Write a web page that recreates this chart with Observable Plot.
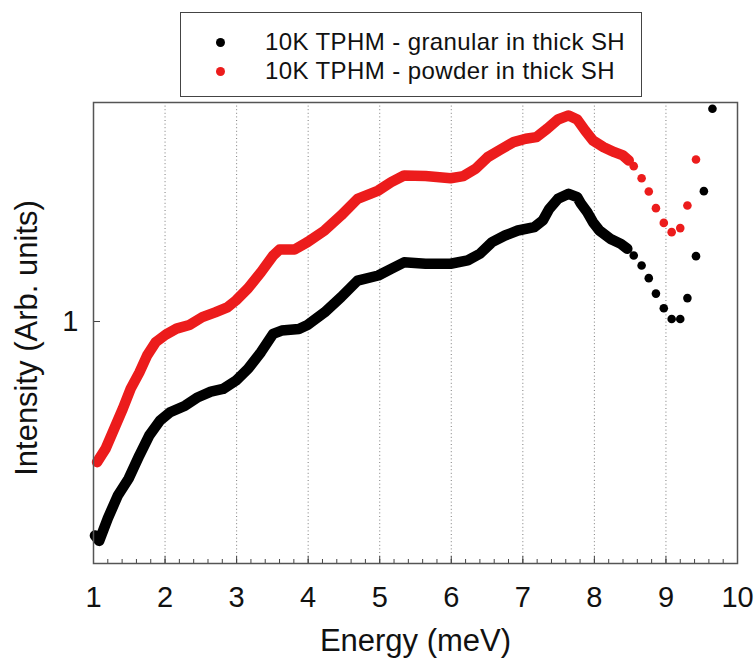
<!DOCTYPE html>
<html><head><meta charset="utf-8">
<script src="https://cdn.jsdelivr.net/npm/d3@7"></script>
<script src="https://cdn.jsdelivr.net/npm/@observablehq/plot@0.6"></script>
<style>
body{margin:0;background:#fff;}
#wrap{position:relative;width:755px;height:669px;font-family:"Liberation Sans",Arial,sans-serif;}
#legend{position:absolute;left:180px;top:12px;width:460px;height:83px;border:1.5px solid #444;background:#fff;}
.row{position:absolute;left:0;top:0;height:28px;display:flex;align-items:center;font-size:24px;letter-spacing:0.4px;color:#111;white-space:nowrap;}
.sw{width:9px;height:9px;border-radius:50%;margin-left:35px;margin-right:40px;flex:none;}
svg{overflow:visible;}
</style></head><body>
<div id="wrap"><div id="legend"></div></div>
<script>
const seriesNames = ["10K TPHM - granular in thick SH", "10K TPHM - powder in thick SH"];
const seriesColors = ["#000000", "#ec1c1c"];

const granularEnergy = [1.02,1.08,1.20,1.34,1.49,1.64,1.78,1.93,2.07,2.28,2.46,2.64,2.81,2.99,3.16,3.34,3.51,3.63,3.87,3.99,4.23,4.46,4.69,4.98,5.16,5.34,5.64,5.99,6.23,6.40,6.57,6.75,6.93,7.16,7.28,7.37,7.49,7.64,7.76,7.81,7.90,7.98,8.07,8.22,8.37,8.46,8.55,8.66,8.76,8.86,8.97,9.08,9.20,9.30,9.42,9.53,9.65];
const granularIntensity = [0.440,0.431,0.470,0.513,0.547,0.598,0.646,0.684,0.706,0.724,0.748,0.764,0.772,0.797,0.834,0.889,0.954,0.966,0.972,0.987,1.036,1.098,1.170,1.193,1.224,1.255,1.248,1.248,1.264,1.297,1.356,1.391,1.418,1.436,1.474,1.541,1.601,1.632,1.611,1.573,1.521,1.464,1.418,1.374,1.347,1.322,1.288,1.240,1.181,1.113,1.052,1.010,1.010,1.094,1.285,1.649,2.262];

const powderEnergy = [1.05,1.17,1.29,1.41,1.52,1.64,1.75,1.87,2.01,2.16,2.34,2.52,2.70,2.87,2.99,3.16,3.34,3.51,3.60,3.81,3.99,4.23,4.46,4.69,4.98,5.16,5.34,5.64,5.99,6.17,6.34,6.51,6.69,6.87,7.04,7.19,7.34,7.49,7.64,7.76,7.87,7.98,8.13,8.28,8.40,8.48,8.55,8.66,8.76,8.86,8.97,9.08,9.20,9.30,9.42];
const powderIntensity = [0.583,0.614,0.663,0.716,0.773,0.822,0.878,0.924,0.951,0.973,0.987,1.017,1.036,1.056,1.084,1.136,1.208,1.288,1.318,1.318,1.356,1.418,1.502,1.601,1.653,1.707,1.751,1.747,1.733,1.747,1.797,1.879,1.935,1.990,2.016,2.029,2.095,2.171,2.205,2.171,2.081,2.003,1.952,1.915,1.891,1.855,1.815,1.733,1.647,1.545,1.460,1.409,1.431,1.561,1.862];

const xTickLabels = [1,2,3,4,5,6,7,8,9,10];
const xGridTicks = [2,3,4,5,6,7,8,9];
const xMinorTicks = d3.range(1, 10.001, 0.2).map(v => +v.toFixed(1));
const yTickLabels = [1];
const denseLimit = 8.5; // below this energy the measured points overlap into a continuous band

const granular = granularEnergy.map((e, i) => ({e, v: granularIntensity[i]}));
const powder = powderEnergy.map((e, i) => ({e, v: powderIntensity[i]}));

const font = "Liberation Sans, Arial, sans-serif";

const chart = Plot.plot({
  width: 755,
  height: 669,
  marginLeft: 93,
  marginRight: 18,
  marginTop: 102,
  marginBottom: 106,
  style: {fontFamily: font, background: "transparent", color: "#111"},
  x: {domain: [1, 10], axis: null},
  y: {type: "log", domain: [0.3952, 2.317], axis: null},
  marks: [
    Plot.gridX(xGridTicks, {stroke: "#666", strokeOpacity: 0.85, strokeWidth: 1, strokeDasharray: "1,2.6"}),
    Plot.line(granular.filter(d => d.e <= denseLimit), {x: "e", y: "v", stroke: seriesColors[0], strokeWidth: 10.5}),
    Plot.dot(granular, {x: "e", y: "v", r: 4.3, fill: seriesColors[0]}),
    Plot.line(powder.filter(d => d.e <= denseLimit), {x: "e", y: "v", stroke: seriesColors[1], strokeWidth: 10.5}),
    Plot.dot(powder, {x: "e", y: "v", r: 4.3, fill: seriesColors[1]}),
    Plot.tickX(xMinorTicks, {x: d => d, stroke: "#444", strokeWidth: 1, insetTop: 457}),
    Plot.tickX(xTickLabels, {x: d => d, stroke: "#444", strokeWidth: 1, insetTop: 454}),
    Plot.tickY(yTickLabels, {y: d => d, stroke: "#444", strokeWidth: 1, insetRight: 637}),
    Plot.frame({stroke: "#555", strokeWidth: 1.5}),
    Plot.axisX(xTickLabels, {tickSize: 0, tickPadding: 23, fontSize: 29, label: null, fill: "#111"}),
    Plot.axisY(yTickLabels, {tickSize: 0, tickPadding: 15, fontSize: 29, label: null, fill: "#111", tickFormat: d => String(d)}),
    Plot.text(["Energy (meV)"], {frameAnchor: "bottom", dy: 87, fontSize: 31, fill: "#111"}),
    Plot.text(["Intensity (Arb. units)"], {frameAnchor: "left", textAnchor: "middle", dx: -66, dy: 5, rotate: -90, fontSize: 31, fill: "#111"})
  ]
});
document.getElementById("wrap").prepend(chart);

const legend = document.getElementById("legend");
seriesNames.forEach((name, i) => {
  const row = document.createElement("div");
  row.className = "row";
  row.style.top = (15 + i * 29) + "px";
  const sw = document.createElement("span");
  sw.className = "sw";
  sw.style.background = seriesColors[i];
  const tx = document.createElement("span");
  tx.textContent = name;
  row.append(sw, tx);
  legend.append(row);
});
</script>
</body></html>
